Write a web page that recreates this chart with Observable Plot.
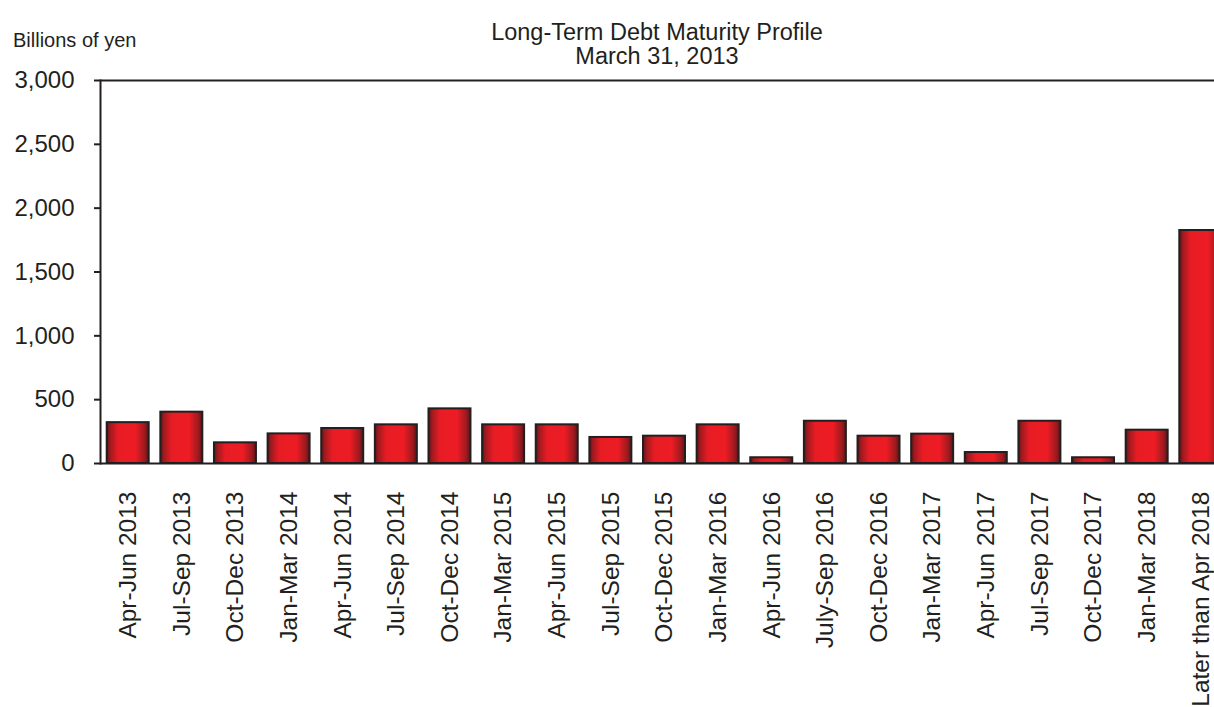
<!DOCTYPE html>
<html>
<head>
<meta charset="utf-8">
<script src="https://cdn.jsdelivr.net/npm/d3@7"></script>
<script src="https://cdn.jsdelivr.net/npm/@observablehq/plot@0.6"></script>
<style>
  body { margin: 0; background: #fff; font-family: "Liberation Sans", Arial, sans-serif; color: #231f20; }
  #wrap { position: relative; width: 1214px; height: 707px; overflow: hidden; }
  #title { position: absolute; left: 0; width: 1314px; top: 20px; text-align: center; font-size: 23.5px; line-height: 24px; }
  #unit { position: absolute; left: 13px; top: 29px; font-size: 20px; }
</style>
</head>
<body>
<div id="wrap">
  <div id="chart"></div>
  <div id="title">Long-Term Debt Maturity Profile<br>March 31, 2013</div>
  <div id="unit">Billions of yen</div>
</div>
<script>
const categories = ["Apr-Jun 2013","Jul-Sep 2013","Oct-Dec 2013","Jan-Mar 2014","Apr-Jun 2014","Jul-Sep 2014","Oct-Dec 2014","Jan-Mar 2015","Apr-Jun 2015","Jul-Sep 2015","Oct-Dec 2015","Jan-Mar 2016","Apr-Jun 2016","July-Sep 2016","Oct-Dec 2016","Jan-Mar 2017","Apr-Jun 2017","Jul-Sep 2017","Oct-Dec 2017","Jan-Mar 2018","Later than Apr 2018"];
const values = [320, 402, 162, 232, 274, 303, 428, 303, 303, 204, 214, 303, 45, 331, 214, 230, 86, 331, 45, 261, 1825];
const yTicks = [0, 500, 1000, 1500, 2000, 2500, 3000];

const data = categories.map((c, i) => ({category: c, value: values[i]}));

const chart = Plot.plot({
  width: 1214,
  height: 707,
  marginTop: 80,
  marginBottom: 244,
  marginLeft: 100,
  marginRight: 0,
  style: {fontFamily: "'Liberation Sans', Arial, sans-serif", color: "#231f20", background: "#fff"},
  x: {domain: categories, range: [100, 1228], paddingInner: 0.217, paddingOuter: 0.125, round: false},
  y: {domain: [0, 3000]},
  marks: [
    Plot.barY(data, {x: "category", y: "value", fill: "url(#barGrad)", stroke: "#231f20", strokeWidth: 2}),
    Plot.ruleY([0, 3000], {stroke: "#231f20", strokeWidth: 2}),
    Plot.frame({anchor: "left", stroke: "#231f20", strokeWidth: 2}),
    Plot.axisY({ticks: yTicks, tickFormat: d3.format(","), tickSize: 6, tickPadding: 20, fontSize: 24, stroke: "#231f20", strokeWidth: 2, strokeOpacity: 1, label: null}),
    Plot.axisX({tickSize: 0, tickPadding: 28, tickRotate: -90, fontSize: 24.5, label: null})
  ]
});

const svg = d3.select(chart);
const defs = svg.insert("defs", ":first-child");
const g = defs.append("linearGradient").attr("id", "barGrad").attr("x1", "0%").attr("x2", "100%").attr("y1", "0%").attr("y2", "0%");
[[0, "#5a1518"], [0.08, "#9e1a1f"], [0.27, "#e81c24"], [0.68, "#ee1c24"], [0.9, "#9e1a1f"], [1, "#5a1518"]].forEach(([o, c]) => {
  g.append("stop").attr("offset", o).attr("stop-color", c);
});
document.getElementById("chart").appendChild(chart);
</script>
</body>
</html>
